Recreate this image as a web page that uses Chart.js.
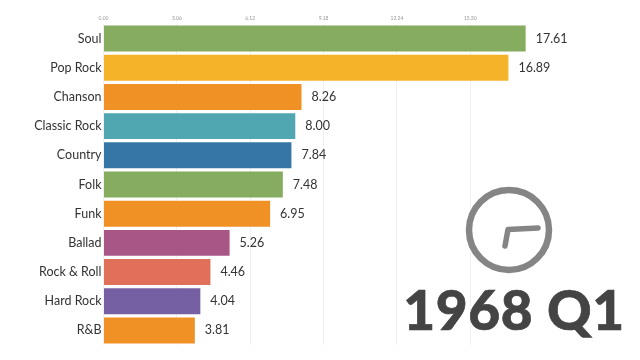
<!DOCTYPE html>
<html>
<head>
<meta charset="utf-8">
<script src="https://cdn.jsdelivr.net/npm/chart.js@4"></script>
<style>
html, body { margin: 0; padding: 0; background: #fff; }
#wrap { position: relative; width: 640px; height: 360px; overflow: hidden; }
#year { position: absolute; left: 400px; top: 276px; width: 228px; text-align: center;
    font: 900 55px Lato, sans-serif; color: #444; white-space: nowrap; letter-spacing: 0.6px;
    -webkit-text-stroke: 0.7px #444; }
#clock { position: absolute; left: 460px; top: 181px; }
</style>
</head>
<body>
<div id="wrap">
    <canvas id="raceChart" width="640" height="360"></canvas>
    <svg id="clock" width="98" height="98" viewBox="0 0 98 98">
        <circle cx="49" cy="49" r="40" fill="none" stroke="#858585" stroke-width="6.5"/>
        <path d="M78 47 L48 48.5 L45 65" fill="none" stroke="#858585" stroke-width="5.5" stroke-linecap="round" stroke-linejoin="round"/>
    </svg>
    <div id="year">1968 Q1</div>
</div>
<script>
var genres = ["Soul", "Pop Rock", "Chanson", "Classic Rock", "Country", "Folk", "Funk", "Ballad", "Rock & Roll", "Hard Rock", "R&B"];
var scores = [17.61, 16.89, 8.26, 8.00, 7.84, 7.48, 6.95, 5.26, 4.46, 4.04, 3.81];
var barColors = ["#86ad5f", "#f5b32a", "#ef9125", "#50a7b1", "#3676a6", "#86ad5f", "#ef9125", "#a85685", "#e0705a", "#7660a4", "#ef9125"];
var tickValues = [0, 3.06, 6.12, 9.18, 12.24, 15.30];

// value text at the end of each bar
var valueLabels = {
    id: "valueLabels",
    afterDatasetsDraw: function (chart) {
        var ctx = chart.ctx;
        var bars = chart.getDatasetMeta(0).data;
        ctx.save();
        ctx.font = "12.5px Lato";
        ctx.fillStyle = "#333";
        ctx.textBaseline = "middle";
        bars.forEach(function (bar, i) {
            ctx.fillText(scores[i].toFixed(2), bar.x + 10, bar.y);
        });
        ctx.restore();
    }
};

var ctx = document.getElementById("raceChart").getContext("2d");

var raceChart = new Chart(ctx, {
    type: "bar",
    data: {
        labels: genres,
        datasets: [{
            data: scores,
            backgroundColor: barColors,
            barPercentage: 0.89,
            categoryPercentage: 1
        }]
    },
    options: {
        indexAxis: "y",
        responsive: false,
        animation: false,
        layout: {
            padding: { top: 12, bottom: 15, left: 0, right: 0 }
        },
        scales: {
            x: {
                position: "top",
                min: 0,
                max: 22.38,
                afterBuildTicks: function (axis) {
                    axis.ticks = tickValues.map(function (v) { return { value: v }; });
                },
                grid: { color: "#f0f0f0", drawTicks: false },
                border: { display: false },
                ticks: {
                    maxRotation: 0,
                    padding: 3,
                    color: "#999",
                    font: { size: 5, family: "Lato" },
                    callback: function (v) { return v.toFixed(2); }
                }
            },
            y: {
                afterFit: function (axis) { axis.width = 103.5; },
                grid: { display: false, drawTicks: false },
                border: { display: false },
                ticks: {
                    padding: 2,
                    color: "#333",
                    font: { size: 12.5, family: "Lato" }
                }
            }
        },
        plugins: {
            legend: { display: false },
            tooltip: { enabled: false }
        }
    },
    plugins: [valueLabels]
});
</script>
</body>
</html>
